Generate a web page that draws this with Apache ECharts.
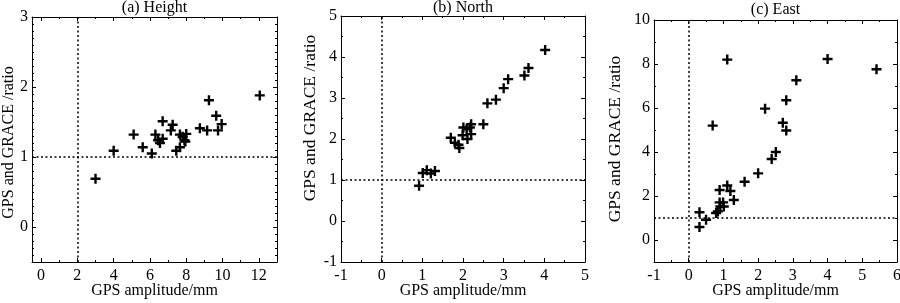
<!DOCTYPE html>
<html>
<head>
<meta charset="utf-8">
<script src="https://cdn.jsdelivr.net/npm/echarts@6/dist/echarts.min.js"></script>
<style>
html,body{margin:0;padding:0;background:#fff;}
#chart{width:900px;height:303px;}
</style>
</head>
<body>
<div id="chart"></div>
<script>
// ---- Data ----
const panelTitles = ['(a) Height', '(b) North', '(c) East'];
const xAxisName = 'GPS amplitude/mm';
const yAxisName = 'GPS and GRACE /ratio';

const heightPoints = [
  [3.0,0.69],[4.0,1.09],[5.1,1.32],[5.6,1.14],[6.1,1.05],[6.3,1.32],[6.45,1.24],
  [6.55,1.20],[6.7,1.26],[6.7,1.51],[7.15,1.38],[7.25,1.46],[7.45,1.09],[7.65,1.14],
  [7.65,1.32],[7.8,1.29],[7.9,1.24],[8.0,1.33],[7.95,1.22],[8.75,1.41],[9.15,1.38],
  [9.25,1.81],[9.65,1.59],[9.75,1.38],[9.95,1.47],[12.05,1.88]
];
const northPoints = [
  [0.92,0.86],[1.01,1.17],[1.11,1.24],[1.21,1.16],[1.31,1.22],[1.70,2.03],[1.80,1.91],
  [1.89,1.86],[1.91,1.78],[2.01,2.28],[1.99,2.09],[2.09,2.24],[2.11,2.00],[2.17,2.28],
  [2.20,2.12],[2.20,2.36],[2.50,2.36],[2.60,2.87],[2.81,2.96],[3.00,3.24],[3.11,3.46],
  [3.51,3.55],[3.61,3.73],[4.02,4.17]
];
const eastPoints = [
  [0.31,1.26],[0.31,0.59],[0.50,0.92],[0.79,1.23],[0.84,1.30],[0.89,2.27],[0.89,1.71],
  [0.99,1.71],[0.91,1.52],[1.01,1.52],[1.11,2.48],[1.20,2.23],[1.30,1.82],[0.69,5.20],
  [1.11,8.20],[1.61,2.65],[2.00,3.03],[2.20,5.97],[2.39,3.68],[2.51,4.00],[2.71,5.33],
  [2.81,4.98],[2.81,6.35],[3.10,7.26],[4.00,8.23],[5.41,7.76]
];

// axis ranges and ticks
const xRanges = [[-0.5,13],[-1,5],[-1,6]];
const yRanges = [[-0.5,3],[-1,5],[-1,10]];
const xMajor = [[0,2,4,6,8,10,12],[-1,0,1,2,3,4,5],[-1,0,1,2,3,4,5,6]];
const xMinor = [[1,3,5,7,9,11],[-0.5,0.5,1.5,2.5,3.5,4.5],[-0.5,0.5,1.5,2.5,3.5,4.5,5.5]];
const yMajor = [[0,1,2,3],[-1,0,1,2,3,4,5],[0,2,4,6,8,10]];
const yMinor = [
  [-0.4,-0.3,-0.2,-0.1,0.1,0.2,0.3,0.4,0.5,0.6,0.7,0.8,0.9,1.1,1.2,1.3,1.4,1.5,1.6,1.7,1.8,1.9,2.1,2.2,2.3,2.4,2.5,2.6,2.7,2.8,2.9],
  [-0.5,0.5,1.5,2.5,3.5,4.5],
  [-1,1,3,5,7,9]
];
const refX = [2, 0, 0];
const refY = [1, 1, 1];

// ---- Layout ----
const grids = [
  {left:32, top:17, width:245, height:245, outerBoundsMode:'none', containLabel:false},
  {left:341, top:16, width:244, height:246, outerBoundsMode:'none', containLabel:false},
  {left:654, top:20, width:243, height:242, outerBoundsMode:'none', containLabel:false}
];
const yNameGaps = [15, 22, 30];
const yNameSizes = [16, 17.5, 17.5];
const yNamePads = [[0,6,0,0],[0,0,0,42],[0,0,0,4]];
const titleTops = [0, 0, 2];
const FONT = 'Liberation Serif';
const pointsList = [heightPoints, northPoints, eastPoints];

const plus = 'path://M0,3.8L10,3.8L10,6.2L0,6.2Z M3.8,0L6.2,0L6.2,10L3.8,10Z';

const xAxes = [], yAxes = [], series = [], titles = [];
for (let p = 0; p < 3; p++) {
  const [xmin, xmax] = xRanges[p];
  const [ymin, ymax] = yRanges[p];
  const lineStyle = {color:'#000', width:1};
  const base = (pos, min, max, ticks, len, isMain, showLine, isX) => ({
    type:'value', gridIndex:p, position:pos, min:min, max:max,
    splitLine:{show:false},
    axisLine:{show:showLine, onZero:false, lineStyle:lineStyle},
    axisTick:{show:true, inside:true, length:len, customValues:ticks, lineStyle:{color:'#000', width:1}},
    axisLabel: isMain ? {show:true, customValues:ticks, color:'#000', fontFamily:FONT, fontSize:16, margin: isX ? 6 : 4} : {show:false},
    name: isMain ? (isX ? xAxisName : yAxisName) : '',
    nameLocation:'middle',
    nameMoveOverlap:false,
    nameGap: isX ? 21 : yNameGaps[p],
    nameTextStyle: isX ? {color:'#000', fontFamily:FONT, fontSize:16}
                       : {color:'#000', fontFamily:FONT, fontSize:yNameSizes[p], padding:yNamePads[p]},
    silent:true
  });
  xAxes.push(base('bottom', xmin, xmax, xMajor[p], 4, true, true, true));
  xAxes.push(base('bottom', xmin, xmax, xMinor[p], 2, false, false, true));
  xAxes.push(base('top', xmin, xmax, xMajor[p], 4, false, true, true));
  xAxes.push(base('top', xmin, xmax, xMinor[p], 2, false, false, true));
  yAxes.push(base('left', ymin, ymax, yMajor[p], 4, true, true, false));
  yAxes.push(base('left', ymin, ymax, yMinor[p], 2, false, false, false));
  yAxes.push(base('right', ymin, ymax, yMajor[p], 4, false, true, false));
  yAxes.push(base('right', ymin, ymax, yMinor[p], 2, false, false, false));

  series.push({
    type:'scatter', xAxisIndex:4*p, yAxisIndex:4*p,
    data:pointsList[p], symbol:plus, symbolSize:10,
    itemStyle:{color:'#000', opacity:1},
    silent:true, animation:false,
    markLine:{
      silent:true, symbol:'none', animation:false,
      label:{show:false},
      lineStyle:{color:'#000', type:[2,2.5], width:1.5},
      data:[{xAxis:refX[p]}, {yAxis:refY[p]}]
    }
  });
  titles.push({
    text:panelTitles[p], left: grids[p].left + grids[p].width/2, top:titleTops[p],
    textAlign:'center', padding:0,
    textStyle:{color:'#000', fontFamily:FONT, fontSize:16, fontWeight:'normal'}
  });
}

const chart = echarts.init(document.getElementById('chart'), null, {renderer:'canvas'});
chart.setOption({
  animation:false,
  backgroundColor:'#fff',
  title:titles,
  grid:grids,
  xAxis:xAxes,
  yAxis:yAxes,
  series:series
});
</script>
</body>
</html>
